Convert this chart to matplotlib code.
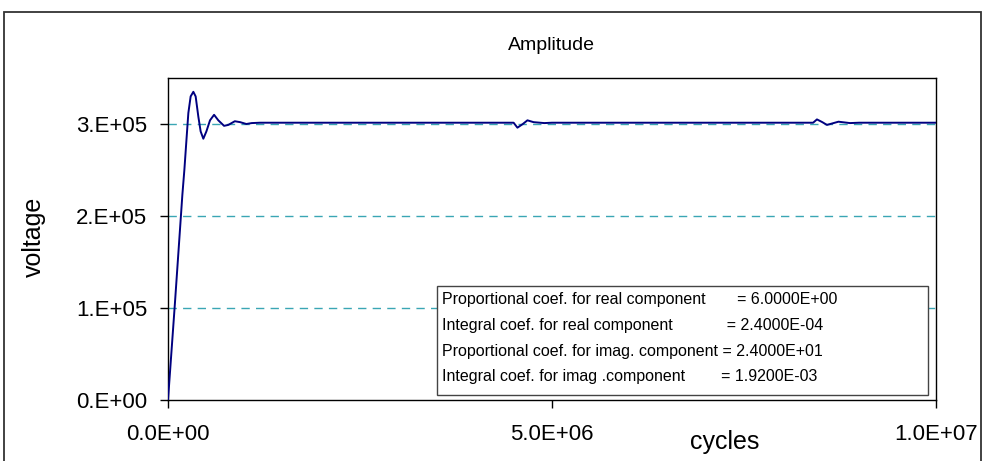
"""
Amplitude response of the PI-controlled loop over 1e7 cycles.
"""
import matplotlib
matplotlib.use('Agg')
import matplotlib.pyplot as plt
from matplotlib.patches import Rectangle

plt.rcParams['font.family'] = ['Liberation Sans', 'DejaVu Sans']

# ── data ──────────────────────────────────────────────────────────────────
cycles = [0, 0.9e5, 1.87e5, 2.13e5, 2.43e5, 2.65e5, 2.95e5, 3.30e5, 3.60e5,
          3.95e5, 4.25e5, 4.60e5, 5.00e5, 5.47e5, 6.00e5, 6.55e5, 7.30e5,
          7.85e5, 8.70e5, 9.40e5, 1.02e6, 1.09e6, 1.20e6,
          4.50e6, 4.55e6, 4.62e6, 4.68e6, 4.76e6, 4.90e6, 5.00e6,
          8.40e6, 8.45e6, 8.52e6, 8.58e6, 8.73e6, 8.88e6, 9.00e6, 1.0e7]
voltage = [0, 1.05e5, 2.23e5, 2.50e5, 2.86e5, 3.12e5, 3.30e5, 3.35e5, 3.30e5,
           3.08e5, 2.92e5, 2.84e5, 2.92e5, 3.04e5, 3.10e5, 3.04e5, 2.98e5,
           2.99e5, 3.03e5, 3.02e5, 3.00e5, 3.01e5, 3.014e5,
           3.014e5, 2.96e5, 3.00e5, 3.04e5, 3.02e5, 3.01e5, 3.014e5,
           3.014e5, 3.05e5, 3.02e5, 2.99e5, 3.025e5, 3.01e5, 3.014e5, 3.014e5]

x_ticks = [0, 5e6, 1e7]
x_ticklabels = ['0.0E+00', '5.0E+06', '1.0E+07']
y_ticks = [0, 1e5, 2e5, 3e5]
y_ticklabels = ['0.E+00', '1.E+05', '2.E+05', '3.E+05']

coef_names = ['Proportional coef. for real component',
              'Integral coef. for real component',
              'Proportional coef. for imag. component',
              'Integral coef. for imag .component']
coef_pad = [7, 12, 1, 8]
coef_values = ['6.0000E+00', '2.4000E-04', '2.4000E+01', '1.9200E-03']

# ── figure ────────────────────────────────────────────────────────────────
W, H = 982, 461
fig = plt.figure(figsize=(W / 100, H / 100), dpi=100)
ax = fig.add_axes([168 / W, 1 - 400 / H, 768 / W, 322 / H])

# chart-area frame (runs off the bottom edge)
fig.patches.append(Rectangle((4 / W, -0.2), (981 - 4) / W, 1.2 - 12 / H,
                             transform=fig.transFigure, fill=False,
                             edgecolor='#333333', lw=1.3, clip_on=False))

for y in y_ticks[1:]:
    ax.axhline(y, color='#3aa6b4', lw=1.0, dashes=(6, 4.5), zorder=1)

ax.plot(cycles, voltage, color='#000080', lw=1.4, zorder=3)

ax.set_xlim(0, 1e7)
ax.set_ylim(0, 3.5e5)
ax.set_xticks(x_ticks)
ax.set_xticklabels(x_ticklabels)
ax.set_yticks(y_ticks)
ax.set_yticklabels(y_ticklabels)
ax.tick_params(axis='both', direction='out', length=6, width=1,
               labelsize=16)
ax.tick_params(axis='y', pad=9)
ax.tick_params(axis='x', pad=11)
for s in ax.spines.values():
    s.set_color('black')
    s.set_linewidth(1.0)

# coefficient box
ax.add_patch(Rectangle(((437 - 168) / 768, (400 - 395) / 322),
                       (928 - 437) / 768, (395 - 286) / 322,
                       transform=ax.transAxes, facecolor='white',
                       edgecolor='#444444', lw=1.0, zorder=4))
row_y = [0.311, 0.231, 0.152, 0.072]
for name, pad, val, yy in zip(coef_names, coef_pad, coef_values, row_y):
    ax.text((442 - 168) / 768, yy, name + ' ' * pad + '= ' + val,
            transform=ax.transAxes, fontsize=11.5, va='center', ha='left',
            zorder=5)

fig.text(551 / W, 1 - 45 / H, 'Amplitude', fontsize=14,
         ha='center', va='center')
fig.text(725 / W, 1 - 442 / H, 'cycles', fontsize=18,
         ha='center', va='center')
fig.text(34 / W, 1 - 237 / H, 'voltage', fontsize=18, rotation=90,
         ha='center', va='center')

fig.savefig('out.png', dpi=100)
